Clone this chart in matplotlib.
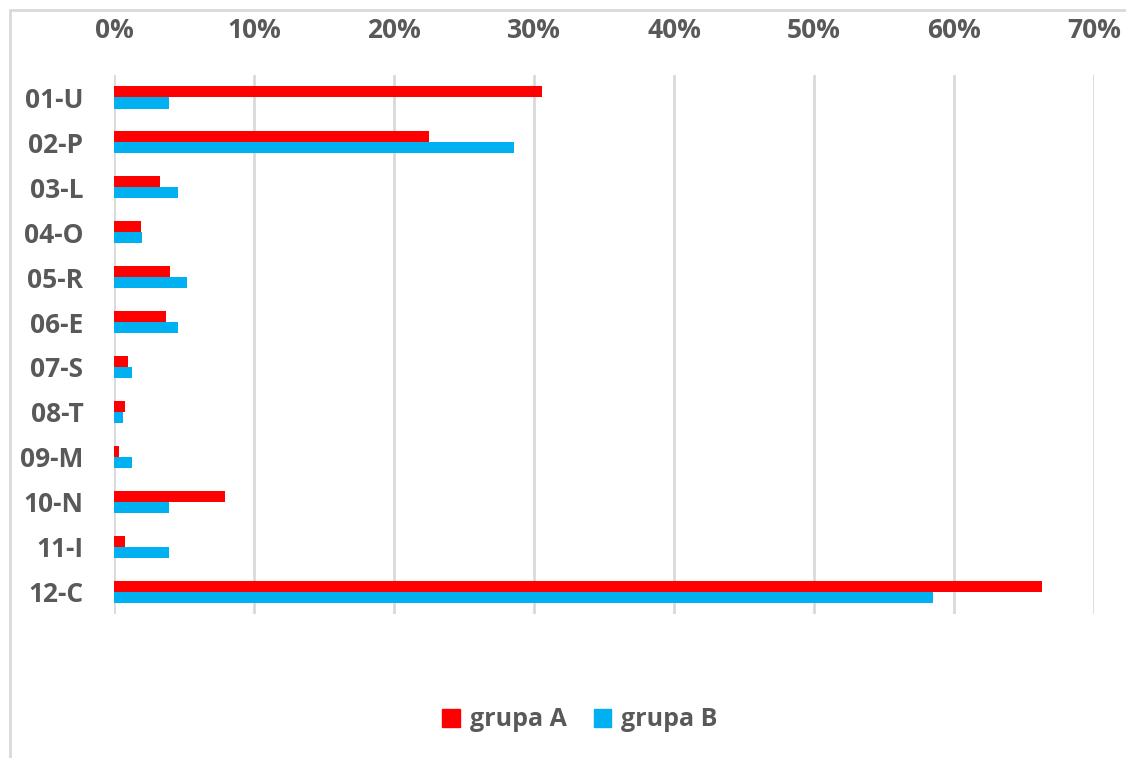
import numpy as np
import matplotlib.pyplot as plt
from matplotlib.patches import Patch, Rectangle
from matplotlib.ticker import PercentFormatter

plt.rcParams['font.family'] = ['Open Sans', 'DejaVu Sans']

categories = ['01-U', '02-P', '03-L', '04-O', '05-R', '06-E',
              '07-S', '08-T', '09-M', '10-N', '11-I', '12-C']
grupa_a = [30.6, 22.5, 3.3, 1.9, 4.0, 3.7, 1.0, 0.8, 0.35, 7.9, 0.8, 66.3]
grupa_b = [3.9, 28.6, 4.6, 2.0, 5.2, 4.6, 1.3, 0.65, 1.3, 3.9, 3.9, 58.5]
x_ticks = [0, 10, 20, 30, 40, 50, 60, 70]

red = '#FF0000'
blue = '#00B0F0'
text_gray = '#595959'
grid_gray = '#D9D9D9'

fig = plt.figure(figsize=(11.26, 7.58), dpi=100)
ax = fig.add_axes([0.1012, 0.19, 0.8704, 0.711])

y = np.arange(len(categories))
h = 0.245
ax.barh(y - h / 2, grupa_a, height=h, color=red, label='grupa A', zorder=3)
ax.barh(y + h / 2, grupa_b, height=h, color=blue, label='grupa B', zorder=3)

ax.set_xlim(0, 70)
ax.set_ylim(len(categories) - 0.5, -0.5)
ax.set_xticks(x_ticks)
ax.xaxis.set_major_formatter(PercentFormatter(decimals=0))
ax.set_yticks(y)
ax.set_yticklabels(categories)

ax.xaxis.tick_top()
ax.tick_params(axis='x', length=0, pad=22, labelsize=19, labelcolor=text_gray)
ax.tick_params(axis='y', length=0, pad=22, labelsize=19, labelcolor=text_gray)
for lbl in ax.get_xticklabels() + ax.get_yticklabels():
    lbl.set_fontweight('bold')

ax.grid(axis='x', color=grid_gray, linewidth=2, zorder=0)
for s in ax.spines.values():
    s.set_visible(False)

handles = [Patch(color=red), Patch(color=blue)]
fig.legend(handles, ['grupa A', 'grupa B'], loc='center',
           bbox_to_anchor=(580 / 1126, 1 - 720 / 758), ncol=2, frameon=False,
           handlelength=0.7, handleheight=0.7, handletextpad=0.4,
           columnspacing=1.1, prop={'size': 18, 'weight': 'bold'},
           labelcolor=text_gray)

# outer chart border (runs past the right and bottom edges)
fig.patches.append(Rectangle((10 / 1126, -0.1), 1.2, 1 - 10 / 758 + 0.1,
                             transform=fig.transFigure, fill=False,
                             edgecolor=grid_gray, linewidth=2))

fig.savefig('out.png', dpi=100)
